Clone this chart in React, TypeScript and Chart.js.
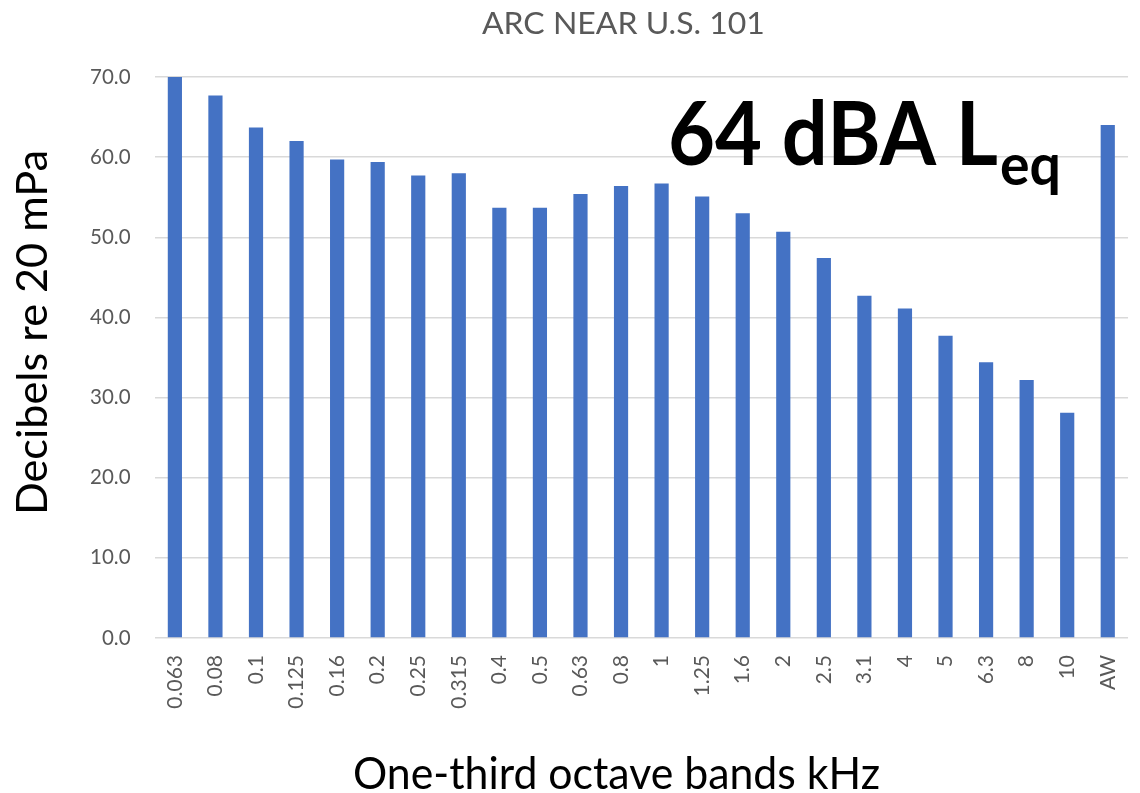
import React, { useEffect, useRef } from "react";
import { Chart, registerables } from "chart.js";

Chart.register(...registerables);

const chartTitle = "ARC NEAR U.S. 101";
const yAxisTitle = "Decibels re 20 mPa";
const xAxisTitle = "One-third octave bands kHz";
const noteMain = "64 dBA L";
const noteSub = "eq";

const bands = [
  "0.063", "0.08", "0.1", "0.125", "0.16", "0.2", "0.25", "0.315", "0.4", "0.5",
  "0.63", "0.8", "1", "1.25", "1.6", "2", "2.5", "3.1", "4", "5", "6.3", "8", "10", "AW",
];
const levels = [
  70.1, 67.7, 63.7, 62.0, 59.7, 59.4, 57.7, 58.0, 53.7, 53.7,
  55.4, 56.4, 56.7, 55.1, 53.0, 50.7, 47.4, 42.7, 41.1, 37.7, 34.4, 32.2, 28.1, 64.0,
];
const yTicks = [0, 10, 20, 30, 40, 50, 60, 70];

const FONT = "Lato, 'Open Sans', sans-serif";

function fitText(
  ctx: CanvasRenderingContext2D,
  text: string,
  x: number,
  y: number,
  opts: { size: number; weight?: string; color: string; align: CanvasTextAlign; width?: number; rotate?: number }
) {
  ctx.save();
  ctx.font = `${opts.weight || "normal"} ${opts.size}px ${FONT}`;
  ctx.fillStyle = opts.color;
  ctx.textBaseline = "alphabetic";
  ctx.textAlign = opts.align;
  ctx.translate(x, y);
  if (opts.rotate) ctx.rotate(opts.rotate);
  if (opts.width) {
    const w = ctx.measureText(text).width;
    ctx.scale(opts.width / w, 1);
  }
  ctx.fillText(text, 0, 0);
  ctx.restore();
}

const textPlugin = {
  id: "textPlugin",
  afterDraw(chart: any) {
    const ctx = chart.ctx as CanvasRenderingContext2D;
    fitText(ctx, chartTitle, 623.4, 34.3, { size: 30, color: "#595959", align: "center", width: 283 });
    fitText(ctx, xAxisTitle, 616.5, 789, { size: 44, color: "#000000", align: "center", width: 527 });
    fitText(ctx, yAxisTitle, 47, 332.5, { size: 43, color: "#000000", align: "center", width: 365, rotate: -Math.PI / 2 });
    fitText(ctx, noteMain, 668, 165, { size: 88, weight: "bold", color: "#000000", align: "left", width: 330 });
    fitText(ctx, noteSub, 1000, 185, { size: 57, weight: "bold", color: "#000000", align: "left", width: 61 });
  },
};

export default function App() {
  const ref = useRef<HTMLCanvasElement | null>(null);

  useEffect(() => {
    if (!ref.current) return;
    const chart = new Chart(ref.current, {
      type: "bar",
      data: {
        labels: bands,
        datasets: [
          {
            data: levels,
            backgroundColor: "#4472C4",
            borderWidth: 0,
            barPercentage: 0.35,
            categoryPercentage: 1,
          },
        ],
      },
      options: {
        responsive: false,
        animation: false,
        events: [],
        layout: { padding: { top: 77, left: 0, right: 1.9, bottom: 0 } },
        plugins: {
          legend: { display: false },
          title: { display: false },
          tooltip: { enabled: false },
        },
        scales: {
          x: {
            grid: { display: false, drawTicks: false },
            border: { display: false },
            ticks: {
              autoSkip: false,
              maxRotation: 90,
              minRotation: 90,
              padding: 17,
              color: "#595959",
              font: { family: FONT, size: 21 },
            },
            afterFit: (s: any) => {
              s.height = 155;
            },
          },
          y: {
            min: 0,
            max: 70,
            afterBuildTicks: (s: any) => {
              s.ticks = yTicks.map((v) => ({ value: v }));
            },
            grid: { color: "#d9d9d9", lineWidth: 1.5, drawTicks: false },
            border: { display: false },
            ticks: {
              padding: 24,
              color: "#595959",
              font: { family: FONT, size: 20.5 },
              callback: (v: any) => Number(v).toFixed(1),
            },
            afterFit: (s: any) => {
              s.width = 154.6;
            },
          },
        },
      },
      plugins: [textPlugin],
    });
    return () => chart.destroy();
  }, []);

  return (
    <div
      style={{
        position: "fixed",
        left: 0,
        top: 0,
        width: 1140,
        height: 793,
        overflow: "hidden",
        background: "#ffffff",
      }}
    >
      <canvas ref={ref} width={1150} height={793} style={{ width: 1150, height: 793, display: "block" }} />
    </div>
  );
}
